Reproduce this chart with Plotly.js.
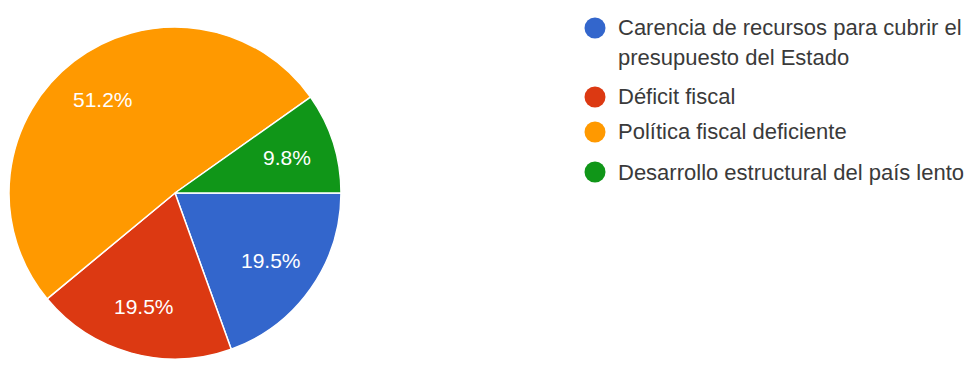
<!DOCTYPE html>
<html>
<head>
<meta charset="utf-8">
<script src="https://cdn.plot.ly/plotly-3.0.1.min.js"></script>
<style>html,body{margin:0;padding:0;background:#fff}#chart{width:966px;height:366px}</style>
</head>
<body>
<div id="chart"></div>
<script>
const categories = [
  "Carencia de recursos para cubrir el<br>presupuesto del Estado",
  "Déficit fiscal",
  "Política fiscal deficiente",
  "Desarrollo estructural del país lento"
];
const percentages = [19.5, 19.5, 51.2, 9.8];
const sliceColors = ["#3366cc", "#dc3912", "#ff9900", "#109618"];

const W = 966, H = 366;
const fontFam = "Liberation Sans, Arial, sans-serif";

// pie geometry (pixels)
const pieLeft = 9, pieRight = 341, pieTop = 27, pieBottom = 359;
const cx = (pieLeft + pieRight) / 2, cy = (pieTop + pieBottom) / 2;
const R = (pieRight - pieLeft) / 2;
const labelRadius = 0.71;

const trace = {
  type: "pie",
  labels: categories,
  values: percentages,
  sort: false,
  direction: "clockwise",
  rotation: 90,
  marker: {colors: sliceColors, line: {color: "#ffffff", width: 1.5}},
  textinfo: "none",
  showlegend: false,
  hoverinfo: "none",
  domain: {x: [pieLeft / W, pieRight / W], y: [1 - pieBottom / H, 1 - pieTop / H]}
};

const annotations = [];
const shapes = [];

// percentage labels at each slice's mid-angle (clockwise from 3 o'clock)
const total = percentages.reduce((a, b) => a + b, 0);
let cum = 0;
percentages.forEach((v) => {
  const mid = (cum + v / 2) / total * 2 * Math.PI;
  cum += v;
  const px = cx + labelRadius * R * Math.cos(mid);
  const py = cy + labelRadius * R * Math.sin(mid);
  annotations.push({
    xref: "paper", yref: "paper",
    x: px / W, y: 1 - py / H,
    xanchor: "center", yanchor: "middle",
    text: v.toFixed(1) + "%", showarrow: false,
    font: {size: 21, color: "#ffffff", family: fontFam}
  });
});

// legend built from the categories
const itemCenters = [28, 97, 132, 172];
const lineGap = 30;
categories.forEach((c, i) => {
  const lines = c.split("<br>");
  lines.forEach((ln, j) => {
    annotations.push({
      xref: "paper", yref: "paper",
      x: 616 / W, y: 1 - (itemCenters[i] + j * lineGap) / H,
      xanchor: "left", yanchor: "middle",
      text: ln, showarrow: false,
      font: {size: 22, color: "#3a3a3a", family: fontFam}
    });
  });
  shapes.push({
    type: "circle", xref: "paper", yref: "paper",
    xsizemode: "pixel", ysizemode: "pixel",
    xanchor: 595 / W, yanchor: 1 - itemCenters[i] / H,
    x0: -10.5, x1: 10.5, y0: -10.5, y1: 10.5,
    fillcolor: sliceColors[i], line: {width: 0}
  });
});

const layout = {
  width: W, height: H,
  margin: {l: 0, r: 0, t: 0, b: 0},
  paper_bgcolor: "#ffffff",
  font: {family: fontFam},
  annotations: annotations,
  shapes: shapes
};

Plotly.newPlot("chart", [trace], layout, {displayModeBar: false, staticPlot: true});
</script>
</body>
</html>
